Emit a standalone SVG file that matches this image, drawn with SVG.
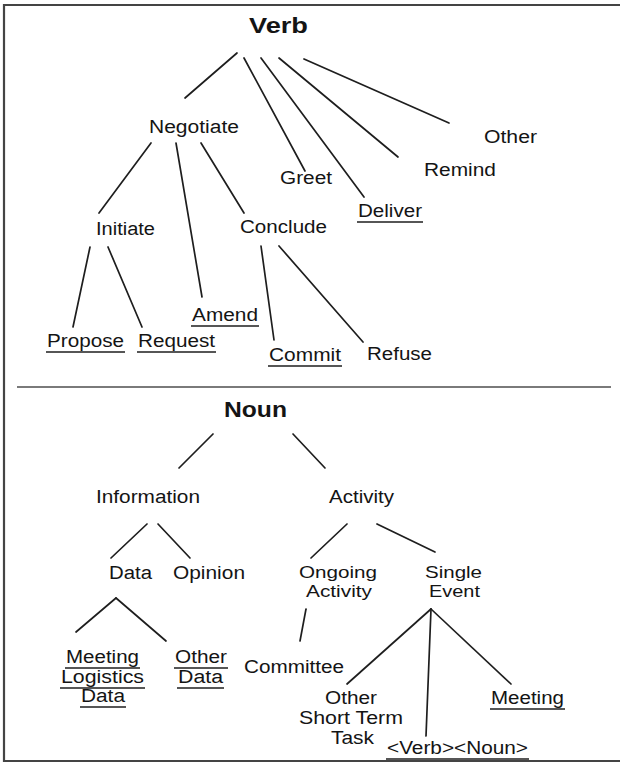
<svg xmlns="http://www.w3.org/2000/svg" width="620" height="762" viewBox="0 0 620 762">
<style>
text{font-family:"Liberation Sans",Arial,sans-serif;font-size:18px;fill:#141414}
.b{font-weight:bold;font-size:22px}
.s{font-size:17px}
.c line{stroke:#1e1e1e;stroke-width:1.7;stroke-linecap:round}
.u{stroke:#1e1e1e;stroke-width:1.5}
</style>
<rect width="620" height="762" fill="#fff"/>
<path d="M620 5 H4 V761 H620" fill="none" stroke="#444" stroke-width="2.2"/>
<line x1="17" y1="387" x2="611" y2="387" stroke="#7a7a7a" stroke-width="2"/>
<g class="c" id="connectors">
<line x1="237" y1="53" x2="185" y2="98"/>
<line x1="244" y1="58" x2="305" y2="171"/>
<line x1="261" y1="58" x2="364" y2="197"/>
<line x1="279" y1="58" x2="398" y2="157"/>
<line x1="304" y1="59" x2="449" y2="123"/>
<line x1="151" y1="143" x2="99" y2="213"/>
<line x1="176" y1="143" x2="202" y2="297"/>
<line x1="201" y1="143" x2="244" y2="213"/>
<line x1="90" y1="247" x2="73" y2="327"/>
<line x1="108" y1="247" x2="142" y2="327"/>
<line x1="261" y1="246" x2="274" y2="340"/>
<line x1="279" y1="246" x2="363" y2="342"/>
<line x1="213" y1="434" x2="179" y2="468"/>
<line x1="293" y1="434" x2="325" y2="468"/>
<line x1="147" y1="524" x2="111" y2="558"/>
<line x1="158" y1="524" x2="190" y2="558"/>
<line x1="347" y1="524" x2="311" y2="558"/>
<line x1="377" y1="524" x2="435" y2="552"/>
<line x1="116" y1="598" x2="76" y2="632"/>
<line x1="116" y1="598" x2="166" y2="641"/>
<line x1="306" y1="609" x2="300" y2="641"/>
<line x1="431" y1="609" x2="347" y2="684"/>
<line x1="431" y1="609" x2="426" y2="736"/>
<line x1="431" y1="609" x2="511" y2="684"/>
</g>
<g id="verb"><text class="b" x="249" y="33" textLength="59" lengthAdjust="spacingAndGlyphs">Verb</text></g>
<g id="negotiate"><text x="149" y="133" textLength="90" lengthAdjust="spacingAndGlyphs">Negotiate</text></g>
<g id="greet"><text x="280" y="184" textLength="52" lengthAdjust="spacingAndGlyphs">Greet</text></g>
<g id="deliver"><text x="358" y="217" textLength="64" lengthAdjust="spacingAndGlyphs">Deliver</text><line class="u" x1="357" y1="222" x2="423" y2="222"/></g>
<g id="remind"><text x="424" y="176" textLength="72" lengthAdjust="spacingAndGlyphs">Remind</text></g>
<g id="other-verb"><text x="484" y="143" textLength="53" lengthAdjust="spacingAndGlyphs">Other</text></g>
<g id="initiate"><text x="96" y="235" textLength="59" lengthAdjust="spacingAndGlyphs">Initiate</text></g>
<g id="conclude"><text x="240" y="233" textLength="87" lengthAdjust="spacingAndGlyphs">Conclude</text></g>
<g id="amend"><text x="192" y="321" textLength="66" lengthAdjust="spacingAndGlyphs">Amend</text><line class="u" x1="191" y1="326" x2="259" y2="326"/></g>
<g id="propose"><text x="47" y="347" textLength="77" lengthAdjust="spacingAndGlyphs">Propose</text><line class="u" x1="46" y1="352" x2="125" y2="352"/></g>
<g id="request"><text x="138" y="347" textLength="77" lengthAdjust="spacingAndGlyphs">Request</text><line class="u" x1="137" y1="352" x2="216" y2="352"/></g>
<g id="commit"><text x="269" y="361" textLength="72" lengthAdjust="spacingAndGlyphs">Commit</text><line class="u" x1="268" y1="366" x2="342" y2="366"/></g>
<g id="refuse"><text x="367" y="360" textLength="65" lengthAdjust="spacingAndGlyphs">Refuse</text></g>
<g id="noun"><text class="b" x="224" y="417" textLength="63" lengthAdjust="spacingAndGlyphs">Noun</text></g>
<g id="information"><text x="96" y="503" textLength="104" lengthAdjust="spacingAndGlyphs">Information</text></g>
<g id="activity"><text x="329" y="503" textLength="65" lengthAdjust="spacingAndGlyphs">Activity</text></g>
<g id="data"><text x="109" y="579" textLength="43" lengthAdjust="spacingAndGlyphs">Data</text></g>
<g id="opinion"><text x="173" y="579" textLength="72" lengthAdjust="spacingAndGlyphs">Opinion</text></g>
<g id="ongoing-activity"><text class="s" x="299" y="578" textLength="78" lengthAdjust="spacingAndGlyphs">Ongoing</text><text class="s" x="306" y="597" textLength="66" lengthAdjust="spacingAndGlyphs">Activity</text></g>
<g id="single-event"><text class="s" x="425" y="578" textLength="57" lengthAdjust="spacingAndGlyphs">Single</text><text class="s" x="429" y="597" textLength="51" lengthAdjust="spacingAndGlyphs">Event</text></g>
<g id="meeting-logistics-data">
<text x="66" y="663" textLength="73" lengthAdjust="spacingAndGlyphs">Meeting</text><line class="u" x1="65" y1="668" x2="140" y2="668"/>
<text x="61" y="683" textLength="83" lengthAdjust="spacingAndGlyphs">Logistics</text><line class="u" x1="60" y1="688" x2="145" y2="688"/>
<text x="81" y="702" textLength="44" lengthAdjust="spacingAndGlyphs">Data</text><line class="u" x1="80" y1="707" x2="126" y2="707"/>
</g>
<g id="other-data">
<text x="175" y="663" textLength="52" lengthAdjust="spacingAndGlyphs">Other</text><line class="u" x1="174" y1="668" x2="228" y2="668"/>
<text x="178" y="683" textLength="45" lengthAdjust="spacingAndGlyphs">Data</text><line class="u" x1="177" y1="688" x2="224" y2="688"/>
</g>
<g id="committee"><text x="244" y="673" textLength="100" lengthAdjust="spacingAndGlyphs">Committee</text></g>
<g id="other-short-term-task">
<text x="325" y="704" textLength="52" lengthAdjust="spacingAndGlyphs">Other</text>
<text x="299" y="724" textLength="104" lengthAdjust="spacingAndGlyphs">Short Term</text>
<text x="331" y="744" textLength="43" lengthAdjust="spacingAndGlyphs">Task</text>
</g>
<g id="verb-noun"><text x="387" y="754" textLength="141" lengthAdjust="spacingAndGlyphs">&lt;Verb&gt;&lt;Noun&gt;</text><line class="u" x1="386" y1="759" x2="529" y2="759"/></g>
<g id="meeting"><text x="491" y="704" textLength="73" lengthAdjust="spacingAndGlyphs">Meeting</text><line class="u" x1="490" y1="709" x2="565" y2="709"/></g>
</svg>
